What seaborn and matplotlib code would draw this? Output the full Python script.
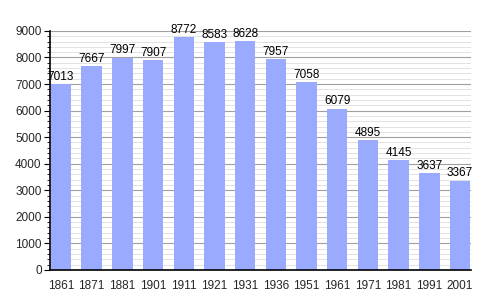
import matplotlib
matplotlib.use("Agg")
import matplotlib.pyplot as plt
import seaborn as sns
import pandas as pd
from matplotlib.ticker import MultipleLocator

years = ["1861", "1871", "1881", "1901", "1911", "1921", "1931", "1936",
         "1951", "1961", "1971", "1981", "1991", "2001"]
population = [7013, 7667, 7997, 7907, 8772, 8583, 8628, 7957,
              7058, 6079, 4895, 4145, 3637, 3367]

df = pd.DataFrame({"year": years, "pop": population})

sns.set_theme(style="white")
plt.rcParams['font.family'] = ['Liberation Sans', 'DejaVu Sans']

fig = plt.figure(figsize=(5, 3), dpi=100)
ax = fig.add_axes([0.1, 0.1, 0.842, 0.797])

sns.barplot(data=df, x="year", y="pop", color="#99aaff", saturation=1,
            width=0.67, ax=ax, zorder=3, linewidth=0, edgecolor="none")

ax.set_ylim(0, 9000)
ax.set_xlim(-0.36, 13.36)
ax.yaxis.set_major_locator(MultipleLocator(1000))
ax.yaxis.set_minor_locator(MultipleLocator(200))
ax.grid(which="major", axis="y", color="#a0a0a0", linewidth=0.8, zorder=0)
ax.grid(which="minor", axis="y", color="#dddddd", linewidth=0.6, zorder=0)
ax.set_axisbelow(True)

for s in ["top", "right"]:
    ax.spines[s].set_visible(False)
for s in ["left", "bottom"]:
    ax.spines[s].set_color("black")
    ax.spines[s].set_linewidth(1.2)
    ax.spines[s].set_zorder(5)

ax.tick_params(axis="y", which="major", left=True, length=4, width=0.8,
               color="black", labelsize=8.5, pad=2)
ax.tick_params(axis="y", which="minor", left=True, length=2, width=0.6,
               color="black")
ax.tick_params(axis="x", bottom=False, labelsize=8.5, pad=1)
ax.set_xlabel("")
ax.set_ylabel("")

for i, v in enumerate(population):
    ax.text(i, v + 40, str(v), ha="center", va="bottom", fontsize=8.5,
            color="black", clip_on=False)

fig.savefig("out.png", dpi=100)
